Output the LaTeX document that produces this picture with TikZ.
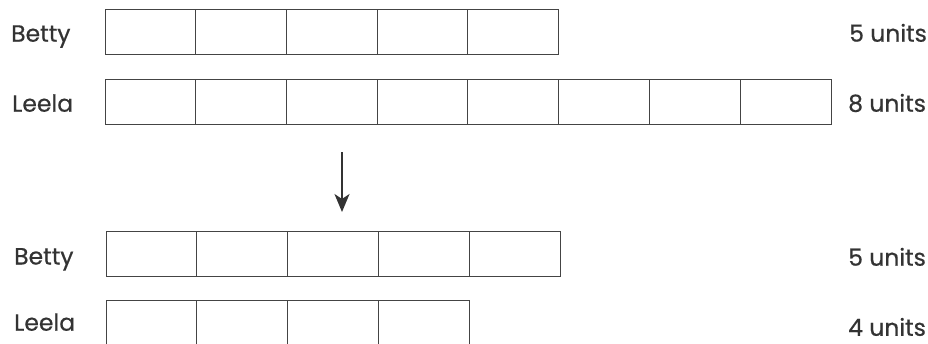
\documentclass[tikz,border=0pt]{standalone}
\usepackage{fontspec}
\setmainfont{Poppins}[FakeBold=0.5]
\usetikzlibrary{arrows.meta}
\definecolor{ink}{HTML}{333333}
\definecolor{barline}{HTML}{444444}
\tikzset{
  bar/.style={draw=barline, line width=1.5pt, minimum height=45pt, inner sep=0pt, outer sep=0pt, anchor=north west},
  divider/.style={draw=barline, line width=1.5pt},
  lbl/.style={text=ink, font=\fontsize{23.5}{26}\selectfont, anchor=base west, inner sep=0pt},
}
\newcommand{\cellbar}[5]{% name, x, y, width, list of divider x
  \node[bar, minimum width=#4] (#1) at (#2,#3) {};
  \foreach \k in {#5} {
    \draw[divider] (#1.north west -| \k,0) -- (#1.south west -| \k,0);
  }
}
\begin{document}
\begin{tikzpicture}[x=1pt,y=-1pt]
\clip (0,0) rectangle (928,343);
\fill[white] (0,0) rectangle (928,343);
\cellbar{tb}{105.5}{9.5}{453pt}{195.5,286.5,377.5,467.5}
\cellbar{tl}{105.5}{79.5}{726pt}{195.5,286.5,377.5,467.5,558.5,649.5,740.5}
\cellbar{bb}{106.5}{231.5}{454pt}{196.5,287.5,378.5,469.5}
\cellbar{bl}{106.5}{300.5}{363pt}{196.5,287.5,378.5}
% labels
\node[lbl] (n1) at (11,41.7) {Betty};
\node[lbl] (n2) at (12,111.7) {Leela};
\node[lbl] (n3) at (14,264.5) {Betty};
\node[lbl] (n4) at (14,330.7) {Leela};
\node[lbl] (u1) at (849,41.7) {5 units};
\node[lbl] (u2) at (848,111.7) {8 units};
\node[lbl] (u3) at (848,265.7) {5 units};
\node[lbl] (u4) at (848,335.8) {4 units};
% arrow
\coordinate (a1) at (342,152);
\coordinate (a2) at (342,212);
\draw[ink, line width=2.2pt, -{Stealth[length=18pt,width=15pt,inset=5pt]}] (a1) -- (a2);
\end{tikzpicture}
\end{document}
